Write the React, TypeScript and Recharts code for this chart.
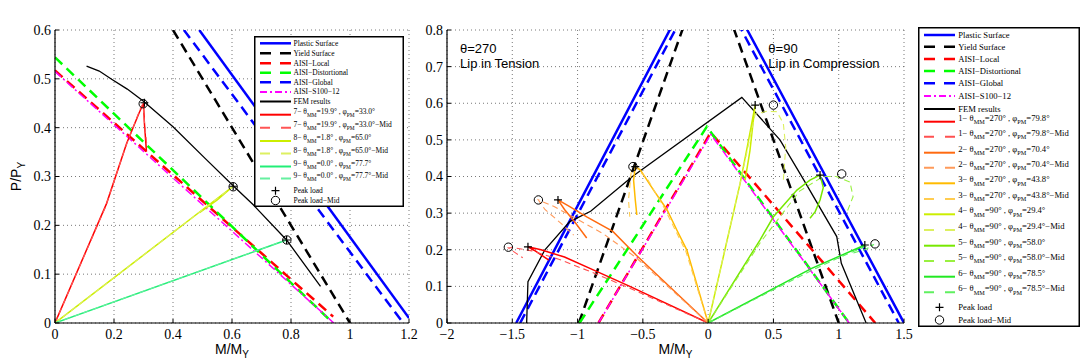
import React from 'react';
import {
  ComposedChart, Line, Scatter, XAxis, YAxis, CartesianGrid, Legend, ReferenceDot,
} from 'recharts';

type Pt = { x: number; y: number };

const SERIF = '"Liberation Serif", "Times New Roman", serif';
const SANS = '"Liberation Sans", Arial, sans-serif';

// ---------------- left panel: theta_MM = 0, major-axis bending ----------------
const majXTicks = [0, 0.2, 0.4, 0.6, 0.8, 1, 1.2];
const majYTicks = [0, 0.1, 0.2, 0.3, 0.4, 0.5, 0.6];

const majPlastic: Pt[] = [{ x: 0.489, y: 0.6 }, { x: 1.2, y: 0.01 }];
const majYield: Pt[] = [{ x: 0.4, y: 0.6 }, { x: 1.0, y: 0 }];
const majLocal: Pt[] = [{ x: 0, y: 0.517 }, { x: 0.943, y: 0.013 }];
const majDist: Pt[] = [{ x: 0, y: 0.544 }, { x: 0.937, y: 0.003 }];
const majGlobal: Pt[] = [{ x: 0.437, y: 0.6 }, { x: 1.18, y: 0 }];
const majS100: Pt[] = [{ x: 0, y: 0.515 }, { x: 0.945, y: 0 }];
const majFem: Pt[] = [
  { x: 0.107, y: 0.526 }, { x: 0.15, y: 0.516 }, { x: 0.192, y: 0.499 }, { x: 0.245, y: 0.479 },
  { x: 0.3, y: 0.454 }, { x: 0.4, y: 0.402 }, { x: 0.514, y: 0.334 }, { x: 0.604, y: 0.281 },
  { x: 0.672, y: 0.242 }, { x: 0.785, y: 0.17 }, { x: 0.9, y: 0.075 },
];
const maj7: Pt[] = [
  { x: 0, y: 0 }, { x: 0.175, y: 0.245 }, { x: 0.243, y: 0.368 }, { x: 0.285, y: 0.43 },
  { x: 0.3, y: 0.45 }, { x: 0.303, y: 0.41 }, { x: 0.31, y: 0.351 },
];
const maj7Mid: Pt[] = [
  { x: 0, y: 0 }, { x: 0.17, y: 0.236 }, { x: 0.24, y: 0.362 }, { x: 0.29, y: 0.44 },
  { x: 0.298, y: 0.449 }, { x: 0.305, y: 0.4 }, { x: 0.312, y: 0.36 },
];
const maj8: Pt[] = [{ x: 0, y: 0 }, { x: 0.604, y: 0.28 }, { x: 0.55, y: 0.252 }, { x: 0.49, y: 0.226 }];
const maj8Mid: Pt[] = [{ x: 0, y: 0 }, { x: 0.6, y: 0.278 }];
const maj9: Pt[] = [{ x: 0, y: 0 }, { x: 0.785, y: 0.17 }];
const maj9Mid: Pt[] = [{ x: 0, y: 0 }, { x: 0.78, y: 0.169 }];
const majPeak: Pt[] = [{ x: 0.303, y: 0.451 }, { x: 0.604, y: 0.28 }, { x: 0.785, y: 0.17 }];
const majPeakMid: Pt[] = [{ x: 0.299, y: 0.449 }, { x: 0.604, y: 0.279 }, { x: 0.786, y: 0.17 }];

// ---------------- right panel: theta_MM = 90 / 270, minor-axis bending ----------------
const minXTicks = [-2, -1.5, -1, -0.5, 0, 0.5, 1, 1.5];
const minYTicks = [0, 0.1, 0.2, 0.3, 0.4, 0.5, 0.6, 0.7, 0.8];

const minPlastic: Pt[] = [{ x: -1.47, y: 0 }, { x: 0, y: 1.0 }, { x: 1.5, y: 0 }];
const minYield: Pt[] = [{ x: -0.99, y: 0 }, { x: 0, y: 1.0 }, { x: 1.0, y: 0 }];
const minLocal: Pt[] = [{ x: -0.84, y: 0 }, { x: 0.02, y: 0.52 }, { x: 1.28, y: 0 }];
const minDist: Pt[] = [{ x: -0.985, y: 0 }, { x: -0.01, y: 0.536 }, { x: 1.08, y: 0 }];
const minGlobal: Pt[] = [{ x: -1.44, y: 0 }, { x: 0, y: 0.97 }, { x: 1.46, y: 0 }];
const minS100: Pt[] = [{ x: -0.84, y: 0 }, { x: 0.02, y: 0.515 }, { x: 1.08, y: 0 }];
const minFem: Pt[] = [
  { x: -1.39, y: 0 }, { x: -1.38, y: 0.113 }, { x: -1.25, y: 0.2 }, { x: -1.06, y: 0.277 },
  { x: -0.9, y: 0.305 }, { x: -0.58, y: 0.4 }, { x: 0.258, y: 0.616 }, { x: 0.55, y: 0.5 },
  { x: 0.74, y: 0.386 }, { x: 0.985, y: 0.236 }, { x: 1.02, y: 0.163 }, { x: 1.21, y: 0 },
];
const min1: Pt[] = [
  { x: 0, y: 0 }, { x: -0.6, y: 0.1 }, { x: -0.88, y: 0.145 }, { x: -1.1, y: 0.18 },
  { x: -1.28, y: 0.2 }, { x: -1.38, y: 0.208 }, { x: -1.33, y: 0.198 }, { x: -1.22, y: 0.172 },
];
const min1Mid: Pt[] = [
  { x: 0, y: 0 }, { x: -0.6, y: 0.095 }, { x: -0.9, y: 0.14 }, { x: -1.15, y: 0.175 },
  { x: -1.35, y: 0.197 }, { x: -1.5, y: 0.206 }, { x: -1.53, y: 0.205 }, { x: -1.47, y: 0.19 },
  { x: -1.42, y: 0.178 },
];
const min2: Pt[] = [
  { x: 0, y: 0 }, { x: -0.55, y: 0.185 }, { x: -0.73, y: 0.25 }, { x: -0.93, y: 0.29 },
  { x: -1.06, y: 0.318 }, { x: -1.15, y: 0.336 }, { x: -1.1, y: 0.31 }, { x: -1.02, y: 0.275 },
  { x: -0.93, y: 0.232 },
];
const min2Mid: Pt[] = [
  { x: 0, y: 0 }, { x: -0.55, y: 0.178 }, { x: -0.8, y: 0.243 }, { x: -1.0, y: 0.283 },
  { x: -1.18, y: 0.318 }, { x: -1.3, y: 0.336 }, { x: -1.25, y: 0.31 }, { x: -1.12, y: 0.27 },
  { x: -1.03, y: 0.24 },
];
const min3: Pt[] = [
  { x: 0, y: 0 }, { x: -0.163, y: 0.199 }, { x: -0.24, y: 0.254 }, { x: -0.316, y: 0.31 },
  { x: -0.418, y: 0.363 }, { x: -0.52, y: 0.418 }, { x: -0.558, y: 0.427 }, { x: -0.571, y: 0.39 },
  { x: -0.558, y: 0.336 }, { x: -0.546, y: 0.295 },
];
const min3Mid: Pt[] = [
  { x: 0, y: 0 }, { x: -0.17, y: 0.195 }, { x: -0.33, y: 0.31 }, { x: -0.46, y: 0.39 },
  { x: -0.55, y: 0.425 }, { x: -0.59, y: 0.41 }, { x: -0.61, y: 0.336 }, { x: -0.6, y: 0.29 },
];
const min4: Pt[] = [
  { x: 0, y: 0 }, { x: 0.245, y: 0.381 }, { x: 0.31, y: 0.5 }, { x: 0.36, y: 0.595 },
  { x: 0.345, y: 0.55 }, { x: 0.32, y: 0.47 }, { x: 0.283, y: 0.39 },
];
const min4Mid: Pt[] = [
  { x: 0, y: 0 }, { x: 0.25, y: 0.39 }, { x: 0.36, y: 0.57 }, { x: 0.45, y: 0.578 },
  { x: 0.526, y: 0.577 }, { x: 0.576, y: 0.545 }, { x: 0.594, y: 0.48 }, { x: 0.576, y: 0.39 },
];
const min5: Pt[] = [
  { x: 0, y: 0 }, { x: 0.398, y: 0.227 }, { x: 0.5, y: 0.29 }, { x: 0.68, y: 0.363 },
  { x: 0.78, y: 0.39 }, { x: 0.857, y: 0.404 }, { x: 0.882, y: 0.37 }, { x: 0.857, y: 0.336 },
  { x: 0.82, y: 0.304 }, { x: 0.78, y: 0.286 },
];
const min5Mid: Pt[] = [
  { x: 0, y: 0 }, { x: 0.4, y: 0.22 }, { x: 0.7, y: 0.36 }, { x: 0.88, y: 0.4 },
  { x: 0.98, y: 0.4 }, { x: 1.086, y: 0.385 }, { x: 1.11, y: 0.345 }, { x: 1.06, y: 0.3 },
];
const min6: Pt[] = [{ x: 0, y: 0 }, { x: 0.793, y: 0.149 }, { x: 1.2, y: 0.213 }, { x: 1.13, y: 0.2 }];
const min6Mid: Pt[] = [
  { x: 0, y: 0 }, { x: 0.8, y: 0.145 }, { x: 1.05, y: 0.186 }, { x: 1.2, y: 0.208 },
  { x: 1.27, y: 0.214 }, { x: 1.2, y: 0.2 }, { x: 1.1, y: 0.19 },
];
const minPeak: Pt[] = [
  { x: -1.38, y: 0.208 }, { x: -1.15, y: 0.336 }, { x: -0.558, y: 0.427 },
  { x: 0.36, y: 0.595 }, { x: 0.857, y: 0.404 }, { x: 1.2, y: 0.213 },
];
const minPeakMid: Pt[] = [
  { x: -1.53, y: 0.207 }, { x: -1.3, y: 0.336 }, { x: -0.576, y: 0.427 },
  { x: 0.5, y: 0.595 }, { x: 1.023, y: 0.407 }, { x: 1.278, y: 0.216 },
];

// text annotations (data coords)
const noteTension: Pt = { x: -1.9, y: 0.737 };
const noteTension2: Pt = { x: -1.9, y: 0.695 };
const noteCompr: Pt = { x: 0.461, y: 0.737 };
const noteCompr2: Pt = { x: 0.461, y: 0.695 };

// ---------------- styles ----------------
const BLUE = '#0000ff';
const RED = '#ff0000';
const GREEN = '#00ff00';
const MAGENTA = '#ff00ff';
const THICK_DASH = '10 6';
const THIN_DASH = '6 4';
const DASH_DOT = '8 3 2 3';

type Entry = {
  name: React.ReactNode;
  data: Pt[];
  color: string;
  w: number;
  dash?: string;
  ldash?: string;
  sub?: boolean;
};

function specName(n: string, th: string, ph: string, mid: boolean, fs: number) {
  const s = fs * 0.72;
  const d = fs * 0.38;
  return (
    <>
      {`${n}\u2212 \u03b8`}
      <tspan fontSize={s} dy={d}>MM</tspan>
      <tspan dy={-d}>{`=${th}\u00b0 , \u03c6`}</tspan>
      <tspan fontSize={s} dy={d}>PM</tspan>
      <tspan dy={-d}>{`=${ph}\u00b0${mid ? '\u2212Mid' : ''}`}</tspan>
    </>
  );
}

function surfaces(p: Pt[], y: Pt[], l: Pt[], d: Pt[], g: Pt[], s: Pt[], fem: Pt[]): Entry[] {
  return [
    { name: 'Plastic Surface', data: p, color: BLUE, w: 2.5 },
    { name: 'Yield Surface', data: y, color: '#000', w: 2.5, dash: THICK_DASH, ldash: '11 9' },
    { name: 'AISI\u2212Local', data: l, color: RED, w: 2.5, dash: THICK_DASH, ldash: '11 9' },
    { name: 'AISI\u2212Distortional', data: d, color: GREEN, w: 2.5, dash: THICK_DASH, ldash: '11 9' },
    { name: 'AISI\u2212Global', data: g, color: BLUE, w: 2.5, dash: THICK_DASH, ldash: '11 9' },
    { name: 'AISI\u2212S100\u221212', data: s, color: MAGENTA, w: 1.5, dash: DASH_DOT, ldash: '7 3 2 3' },
    { name: 'FEM results', data: fem, color: '#000', w: 1.3 },
  ];
}

const LFS = 7.5;
const majEntries: Entry[] = [
  ...surfaces(majPlastic, majYield, majLocal, majDist, majGlobal, majS100, majFem),
  { name: specName('7', '19.9', '33.0', false, LFS), data: maj7, color: '#ff0000', w: 1.5, sub: true },
  { name: specName('7', '19.9', '33.0', true, LFS), data: maj7Mid, color: '#ff5555', w: 1.1, dash: THIN_DASH, ldash: '10 11', sub: true },
  { name: specName('8', '1.8', '65.0', false, LFS), data: maj8, color: '#ccee00', w: 1.5, sub: true },
  { name: specName('8', '1.8', '65.0', true, LFS), data: maj8Mid, color: '#ddf060', w: 1.1, dash: THIN_DASH, ldash: '10 11', sub: true },
  { name: specName('9', '0.0', '77.7', false, LFS), data: maj9, color: '#22ee77', w: 1.5, sub: true },
  { name: specName('9', '0.0', '77.7', true, LFS), data: maj9Mid, color: '#66f0a0', w: 1.1, dash: THIN_DASH, ldash: '10 11', sub: true },
];

const RFS = 8.6;
const minEntries: Entry[] = [
  ...surfaces(minPlastic, minYield, minLocal, minDist, minGlobal, minS100, minFem),
  { name: specName('1', '270', '79.8', false, RFS), data: min1, color: '#ff0000', w: 1.5, sub: true },
  { name: specName('1', '270', '79.8', true, RFS), data: min1Mid, color: '#ff5050', w: 1.1, dash: THIN_DASH, ldash: '10 11', sub: true },
  { name: specName('2', '270', '70.4', false, RFS), data: min2, color: '#ff6a10', w: 1.5, sub: true },
  { name: specName('2', '270', '70.4', true, RFS), data: min2Mid, color: '#ff9a5a', w: 1.1, dash: THIN_DASH, ldash: '10 11', sub: true },
  { name: specName('3', '270', '43.8', false, RFS), data: min3, color: '#ffbb00', w: 1.5, sub: true },
  { name: specName('3', '270', '43.8', true, RFS), data: min3Mid, color: '#ffcc50', w: 1.1, dash: THIN_DASH, ldash: '10 11', sub: true },
  { name: specName('4', '90', '29.4', false, RFS), data: min4, color: '#ccee00', w: 1.5, sub: true },
  { name: specName('4', '90', '29.4', true, RFS), data: min4Mid, color: '#ddf060', w: 1.1, dash: THIN_DASH, ldash: '10 11', sub: true },
  { name: specName('5', '90', '58.0', false, RFS), data: min5, color: '#77e800', w: 1.5, sub: true },
  { name: specName('5', '90', '58.0', true, RFS), data: min5Mid, color: '#99f040', w: 1.1, dash: THIN_DASH, ldash: '10 11', sub: true },
  { name: specName('6', '90', '78.5', false, RFS), data: min6, color: '#22e822', w: 1.5, sub: true },
  { name: specName('6', '90', '78.5', true, RFS), data: min6Mid, color: '#60f060', w: 1.1, dash: THIN_DASH, ldash: '10 11', sub: true },
];

// legend row centres (px from top of the box)
const majLegendYs = [7.3, 17.3, 27.3, 36.7, 46.3, 56, 65.5, 78.7, 91.7, 105, 117.5, 130.5, 142.5, 154.7, 164.5];
const minLegendYs = [8, 19.7, 32, 44, 56.3, 69, 82, 94.7, 109.7, 125.7, 140.7, 156.3, 172, 187.3, 203, 218.7, 234, 249.7, 265.3, 280.3, 293];

const Plus = (p: any) => (
  <path d={`M${p.cx - 4},${p.cy}h8M${p.cx},${p.cy - 4}v8`} stroke="#000" strokeWidth={1.2} fill="none" />
);
const Ring = (p: any) => <circle cx={p.cx} cy={p.cy} r={4.2} stroke="#000" strokeWidth={1} fill="none" />;

function LegendBox(props: { entries: Entry[]; ys: number[]; w: number; h: number; fs: number; tx: number }) {
  const { entries, ys, w, h, fs, tx } = props;
  const x1 = 6;
  const x2 = 37;
  const mx = (x1 + x2) / 2;
  const n = entries.length;
  const textY = (y: number, sub?: boolean) => y + (sub ? -fs * 0.1 : fs * 0.33);
  return (
    <svg width={w} height={h} style={{ display: 'block' }}>
      <rect x={0.75} y={0.75} width={w - 1.5} height={h - 1.5} fill="#fff" stroke="#000" strokeWidth={1.5} />
      {entries.map((e, i) => (
        <g key={i}>
          <line x1={x1} x2={x2} y1={ys[i]} y2={ys[i]} stroke={e.color} strokeWidth={e.w < 2 ? 2 : e.w}
            strokeDasharray={e.ldash} />
          <text x={tx} y={textY(ys[i], e.sub)} fontSize={fs} fontFamily={SERIF} fill="#000">{e.name}</text>
        </g>
      ))}
      <Plus cx={mx} cy={ys[n]} />
      <text x={tx} y={textY(ys[n])} fontSize={fs} fontFamily={SERIF} fill="#000">Peak load</text>
      <Ring cx={mx} cy={ys[n + 1]} />
      <text x={tx} y={textY(ys[n + 1])} fontSize={fs} fontFamily={SERIF} fill="#000">{'Peak load\u2212Mid'}</text>
    </svg>
  );
}

const fmt = (v: number) => (v < 0 ? `\u2212${Math.abs(v)}` : `${v}`);
const blank = () => '';

const xLabel = (p: any) => {
  const vb = p.viewBox;
  return (
    <text x={vb.x + vb.width / 2} y={vb.y + 31} textAnchor="middle" fontFamily={SANS} fontSize={14} fill="#000">
      M/M<tspan fontSize={10} dy={4}>Y</tspan>
    </text>
  );
};

const yLabel = (p: any) => {
  const vb = p.viewBox;
  const cx = vb.x + 21;
  const cy = vb.y + vb.height / 2;
  return (
    <text x={cx} y={cy} transform={`rotate(-90 ${cx} ${cy})`} textAnchor="middle" fontFamily={SANS} fontSize={14} fill="#000">
      P/P<tspan fontSize={10} dy={4}>Y</tspan>
    </text>
  );
};

const titleLabel = (rest: React.ReactNode) => (p: any) => {
  const vb = p.viewBox;
  return (
    <text x={vb.x + vb.width / 2} y={16} textAnchor="middle" fontFamily={SANS} fontSize={13} fill="#000">
      {'\u03b8'}
      <tspan fontSize={9} dy={3.5}>MM</tspan>
      <tspan dy={-3.5}>{''}</tspan>
      {rest}
    </text>
  );
};

const note = (txt: string) => (p: any) => (
  <text x={p.cx} y={p.cy} fontFamily={SANS} fontSize={13} fill="#000">{txt}</text>
);

const tickStyle = { fill: '#000', fontSize: 14, fontFamily: SERIF };
const axisLine = { stroke: '#000', strokeWidth: 1.2 };

function axes(xd: number[], yd: number[], xt: number[], yt: number[], yw: number, title: (p: any) => React.ReactNode, withYLabel: boolean) {
  return [
    <XAxis key="xb" type="number" dataKey="x" domain={xd} ticks={xt} interval={0} allowDataOverflow
      tick={tickStyle} tickFormatter={fmt} tickSize={-4} tickMargin={10} height={30}
      axisLine={axisLine} tickLine={{ stroke: '#000' }} label={xLabel} />,
    <XAxis key="xt" xAxisId="top" orientation="top" type="number" dataKey="x" domain={xd} ticks={xt} interval={0}
      allowDataOverflow tickFormatter={blank} tickSize={-4} height={0}
      axisLine={axisLine} tickLine={{ stroke: '#000' }} label={title} />,
    <YAxis key="yl" type="number" dataKey="y" domain={yd} ticks={yt} interval={0} allowDataOverflow
      tick={tickStyle} tickFormatter={fmt} tickSize={-4} tickMargin={8} width={yw}
      axisLine={axisLine} tickLine={{ stroke: '#000' }} label={withYLabel ? yLabel : undefined} />,
    <YAxis key="yr" yAxisId="right" orientation="right" type="number" dataKey="y" domain={yd} ticks={yt}
      interval={0} allowDataOverflow tickFormatter={blank} tickSize={-4} width={0}
      axisLine={axisLine} tickLine={{ stroke: '#000' }} />,
  ];
}

const renderLines = (list: Entry[]) =>
  list.map((s, i) => (
    <Line key={`l${i}`} data={s.data} dataKey="y" type="linear" stroke={s.color} strokeWidth={s.w}
      strokeDasharray={s.dash} dot={false} activeDot={false} isAnimationActive={false} legendType="none" />
  ));

function MajorPanel() {
  return (
    <ComposedChart width={420} height={360} margin={{ top: 30, right: 11, bottom: 7, left: 0 }}>
      <CartesianGrid stroke="#555" strokeDasharray="1 3" strokeWidth={0.8} />
      {axes([0, 1.2], [0, 0.6], majXTicks, majYTicks, 55,
        titleLabel(<><tspan dy={0}>=0</tspan><tspan fontSize={9} dy={-5}>o</tspan><tspan dy={5}>: Major\u2212axis Bending</tspan></>),
        true)}
      {renderLines(majEntries)}
      <Scatter data={majPeak} shape={Plus} isAnimationActive={false} legendType="none" />
      <Scatter data={majPeakMid} shape={Ring} isAnimationActive={false} legendType="none" />
      <Legend layout="vertical" align="center" verticalAlign="middle"
        wrapperStyle={{ left: 254, top: 36, width: 150, height: 171, lineHeight: 0 }}
        content={() => <LegendBox entries={majEntries} ys={majLegendYs} w={150} h={171} fs={LFS} tx={39.5} />} />
    </ComposedChart>
  );
}

function MinorPanel() {
  return (
    <ComposedChart width={660} height={360} margin={{ top: 30, right: 176, bottom: 7, left: 0 }}>
      <CartesianGrid stroke="#555" strokeDasharray="1 3" strokeWidth={0.8} />
      {axes([-2, 1.5], [0, 0.8], minXTicks, minYTicks, 27,
        titleLabel(<><tspan dy={0}>=90</tspan><tspan fontSize={9} dy={-5}>o</tspan><tspan dy={5}> , 270</tspan><tspan fontSize={9} dy={-5}>o</tspan><tspan dy={5}>: Minor\u2212axis Bending</tspan></>),
        false)}
      {renderLines(minEntries)}
      <Scatter data={minPeak} shape={Plus} isAnimationActive={false} legendType="none" />
      <Scatter data={minPeakMid} shape={Ring} isAnimationActive={false} legendType="none" />
      <ReferenceDot x={noteTension.x} y={noteTension.y} r={0} shape={note('\u03b8=270')} />
      <ReferenceDot x={noteTension2.x} y={noteTension2.y} r={0} shape={note('Lip in Tension')} />
      <ReferenceDot x={noteCompr.x} y={noteCompr.y} r={0} shape={note('\u03b8=90')} />
      <ReferenceDot x={noteCompr2.x} y={noteCompr2.y} r={0} shape={note('Lip in Compression')} />
      <Legend layout="vertical" align="center" verticalAlign="middle"
        wrapperStyle={{ left: 498, top: 27, width: 162, height: 300, lineHeight: 0 }}
        content={() => <LegendBox entries={minEntries} ys={minLegendYs} w={162} h={300} fs={RFS} tx={40.3} />} />
    </ComposedChart>
  );
}

export default function App() {
  return (
    <div style={{ position: 'absolute', left: 0, top: 0, width: 1080, height: 360, overflow: 'hidden', background: '#fff' }}>
      <div style={{ position: 'absolute', left: 0, top: 0 }}>
        <MajorPanel />
      </div>
      <div style={{ position: 'absolute', left: 420, top: 0 }}>
        <MinorPanel />
      </div>
    </div>
  );
}
